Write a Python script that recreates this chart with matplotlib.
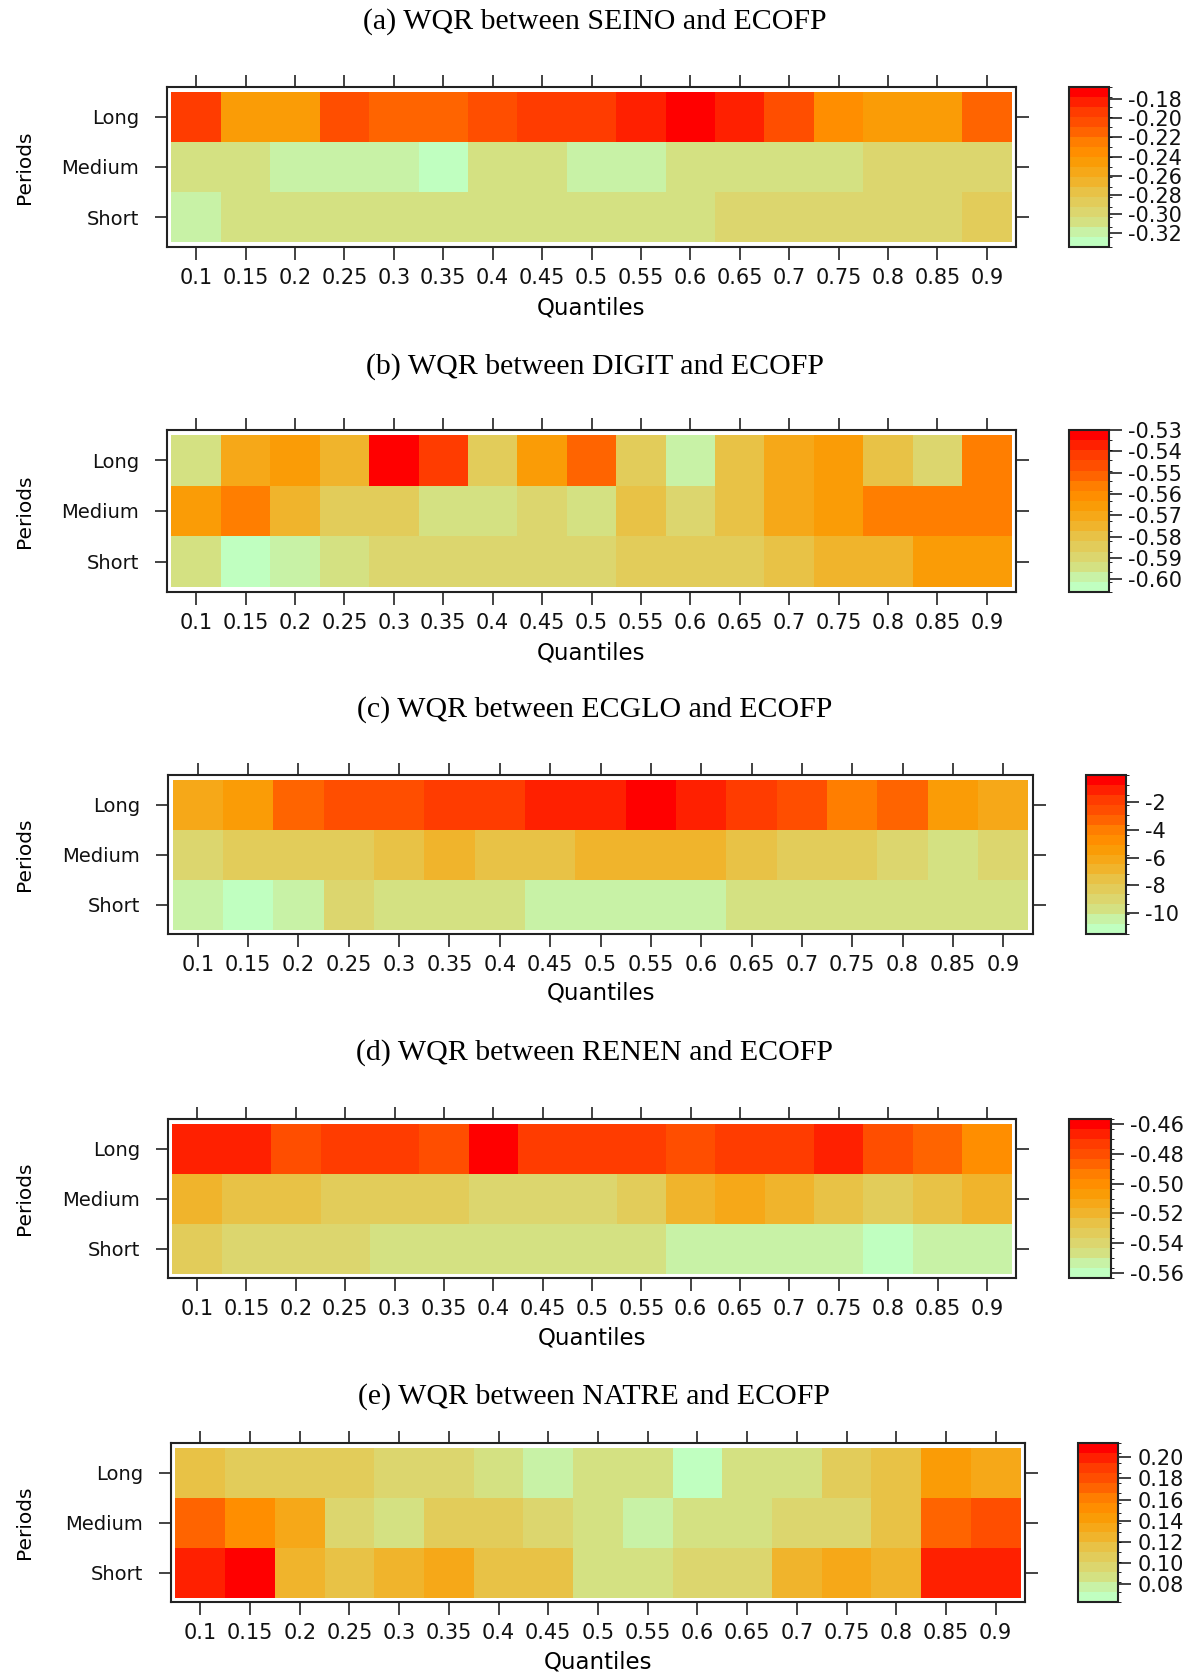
import numpy as np
import matplotlib
matplotlib.use('Agg')
import matplotlib.pyplot as plt
from matplotlib.colors import ListedColormap, BoundaryNorm

plt.rcParams['font.family'] = ['DejaVu Sans']
plt.rcParams['axes.unicode_minus'] = False

quantiles = ['0.1', '0.15', '0.2', '0.25', '0.3', '0.35', '0.4', '0.45', '0.5',
             '0.55', '0.6', '0.65', '0.7', '0.75', '0.8', '0.85', '0.9']
periods = ['Long', 'Medium', 'Short']

# (a) SEINO
seino_long = [-0.193, -0.246, -0.246, -0.204, -0.214, -0.214, -0.204, -0.193, -0.193,
              -0.183, -0.167, -0.183, -0.204, -0.235, -0.246, -0.246, -0.214]
seino_medium = [-0.309, -0.309, -0.319, -0.319, -0.319, -0.335, -0.309, -0.309, -0.319,
                -0.319, -0.309, -0.309, -0.309, -0.309, -0.298, -0.298, -0.298]
seino_short = [-0.319, -0.309, -0.309, -0.309, -0.309, -0.309, -0.309, -0.309, -0.309,
               -0.309, -0.309, -0.298, -0.298, -0.298, -0.298, -0.298, -0.288]

# (b) DIGIT
digit_long = [-0.5941, -0.5704, -0.5656, -0.5751, -0.5300, -0.5419, -0.5846, -0.5656, -0.5514,
              -0.5846, -0.5989, -0.5799, -0.5704, -0.5656, -0.5799, -0.5894, -0.5561]
digit_medium = [-0.5656, -0.5561, -0.5751, -0.5846, -0.5846, -0.5941, -0.5941, -0.5894, -0.5941,
                -0.5799, -0.5894, -0.5799, -0.5704, -0.5656, -0.5561, -0.5561, -0.5561]
digit_short = [-0.5941, -0.6060, -0.5989, -0.5941, -0.5894, -0.5894, -0.5894, -0.5894, -0.5894,
               -0.5846, -0.5846, -0.5846, -0.5799, -0.5751, -0.5751, -0.5656, -0.5656]

# (c) ECGLO
ecglo_long = [-6.14, -5.42, -3.28, -2.57, -2.57, -1.85, -1.85, -1.14, -1.14,
              -0.07, -1.14, -1.85, -2.57, -4.00, -3.28, -5.42, -6.14]
ecglo_medium = [-8.99, -8.28, -8.28, -8.28, -7.57, -6.85, -7.57, -7.57, -6.85,
                -6.85, -6.85, -7.57, -8.28, -8.28, -8.99, -9.71, -8.99]
ecglo_short = [-10.42, -11.49, -10.42, -8.99, -9.71, -9.71, -9.71, -10.42, -10.42,
               -10.42, -10.42, -9.71, -9.71, -9.71, -9.71, -9.71, -9.71]

# (d) RENEN
renen_long = [-0.4667, -0.4667, -0.4800, -0.4734, -0.4734, -0.4800, -0.4567, -0.4734, -0.4734,
              -0.4734, -0.4800, -0.4734, -0.4734, -0.4667, -0.4800, -0.4867, -0.5000]
renen_medium = [-0.5200, -0.5267, -0.5267, -0.5333, -0.5333, -0.5333, -0.5400, -0.5400, -0.5400,
                -0.5333, -0.5200, -0.5133, -0.5200, -0.5267, -0.5333, -0.5267, -0.5200]
renen_short = [-0.5333, -0.5400, -0.5400, -0.5400, -0.5466, -0.5466, -0.5466, -0.5466, -0.5466,
               -0.5466, -0.5533, -0.5533, -0.5533, -0.5533, -0.5633, -0.5533, -0.5533]

# (e) NATRE
natre_long = [0.1148, 0.1054, 0.1054, 0.1054, 0.0959, 0.0959, 0.0865, 0.0771, 0.0865,
              0.0865, 0.0630, 0.0865, 0.0865, 0.1054, 0.1148, 0.1430, 0.1336]
natre_medium = [0.1712, 0.1524, 0.1336, 0.0959, 0.0865, 0.1054, 0.1054, 0.0959, 0.0865,
                0.0771, 0.0865, 0.0865, 0.0959, 0.0959, 0.1148, 0.1712, 0.1807]
natre_short = [0.1995, 0.2136, 0.1242, 0.1148, 0.1242, 0.1336, 0.1148, 0.1148, 0.0865,
               0.0865, 0.0959, 0.0959, 0.1242, 0.1336, 0.1242, 0.1995, 0.1995]

titles = ['(a) WQR between SEINO and ECOFP', '(b) WQR between DIGIT and ECOFP',
          '(c) WQR between ECGLO and ECOFP', '(d) WQR between RENEN and ECOFP',
          '(e) WQR between NATRE and ECOFP']
cbar_ticks = [[-0.32, -0.30, -0.28, -0.26, -0.24, -0.22, -0.20, -0.18],
              [-0.60, -0.59, -0.58, -0.57, -0.56, -0.55, -0.54, -0.53],
              [-10, -8, -6, -4, -2],
              [-0.56, -0.54, -0.52, -0.50, -0.48, -0.46],
              [0.08, 0.10, 0.12, 0.14, 0.16, 0.18, 0.20]]
cbar_fmt = ['%.2f', '%.2f', '%d', '%.2f', '%.2f']

grids = [
    [seino_long, seino_medium, seino_short],
    [digit_long, digit_medium, digit_short],
    [ecglo_long, ecglo_medium, ecglo_short],
    [renen_long, renen_medium, renen_short],
    [natre_long, natre_medium, natre_short],
]

colors = ['#C0FFC0', '#C8F2A6', '#D4E182', '#DCD66E', '#E2CC5A', '#E8C246', '#F0B42C',
          '#F6A818', '#FA9C06', '#FF8E00', '#FF7E00', '#FF6400', '#FF4E00', '#FF3C00',
          '#FF2000', '#FF0000']
cmap = ListedColormap(colors)

W, H = 1189, 1673
fig = plt.figure(figsize=(W / 100, H / 100), dpi=100)

# pixel layout: frame (x0, x1, y0, y1), colorbar (x0, x1), title y, xlabel y
layout = [
    ((167, 1016, 87, 247), (1069, 1109), 22, 308),
    ((167, 1016, 430, 592), (1069, 1109), 367, 653),
    ((168, 1033, 775, 934), (1086, 1126), 710, 993),
    ((168, 1016, 1119, 1278), (1069, 1111), 1053, 1338),
    ((171, 1025, 1443, 1602), (1078, 1118), 1397, 1662),
]


def rect(x0, x1, y0, y1):
    return [x0 / W, 1 - y1 / H, (x1 - x0) / W, (y1 - y0) / H]


pad = 0.09
for grid, title, ticks, fmt, (frame, cb, ty, qy) in zip(grids, titles, cbar_ticks, cbar_fmt, layout):
    z = np.array(grid)
    levels = np.linspace(z.min(), z.max(), len(colors) + 1)
    norm = BoundaryNorm(levels, cmap.N)

    ax = fig.add_axes(rect(*frame))
    mesh = ax.pcolormesh(np.arange(len(quantiles) + 1) - 0.5, np.arange(len(periods) + 1) - 0.5,
                         z, cmap=cmap, norm=norm)
    ax.set_xlim(-0.5 - pad, len(quantiles) - 0.5 + pad)
    ax.set_ylim(len(periods) - 0.5 + pad, -0.5 - pad)
    ax.set_xticks(range(len(quantiles)))
    ax.set_xticklabels(quantiles)
    ax.set_yticks(range(len(periods)))
    ax.set_yticklabels(periods)
    ax.tick_params(direction='out', length=9, width=1.2, top=True, right=True,
                   colors='#222222', labelcolor='#111111')
    ax.tick_params(axis='x', labelsize=15, pad=6)
    ax.tick_params(axis='y', labelsize=14, pad=11)
    for s in ax.spines.values():
        s.set_linewidth(1.5)
        s.set_color('#222222')

    cax = fig.add_axes(rect(cb[0], cb[1], frame[2], frame[3]))
    cbar = fig.colorbar(mesh, cax=cax, ticks=ticks, format=fmt)
    cbar.outline.set_linewidth(1.5)
    cbar.outline.set_edgecolor('#222222')
    cax.tick_params(direction='out', length=9, width=1.2, labelsize=15, pad=5,
                    colors='#222222', labelcolor='#111111')

    yc = (frame[2] + frame[3]) / 2
    fig.text(0.5, 1 - ty / H, title, ha='center', va='center', fontsize=21.5,
             family='Liberation Serif')
    fig.text((frame[0] + frame[1]) / 2 / W, 1 - qy / H, 'Quantiles', ha='center',
             va='center', fontsize=16.5)
    fig.text(25 / W, 1 - yc / H, 'Periods', ha='center', va='center', fontsize=14.5,
             rotation=90)

fig.savefig('out.png', dpi=100)
